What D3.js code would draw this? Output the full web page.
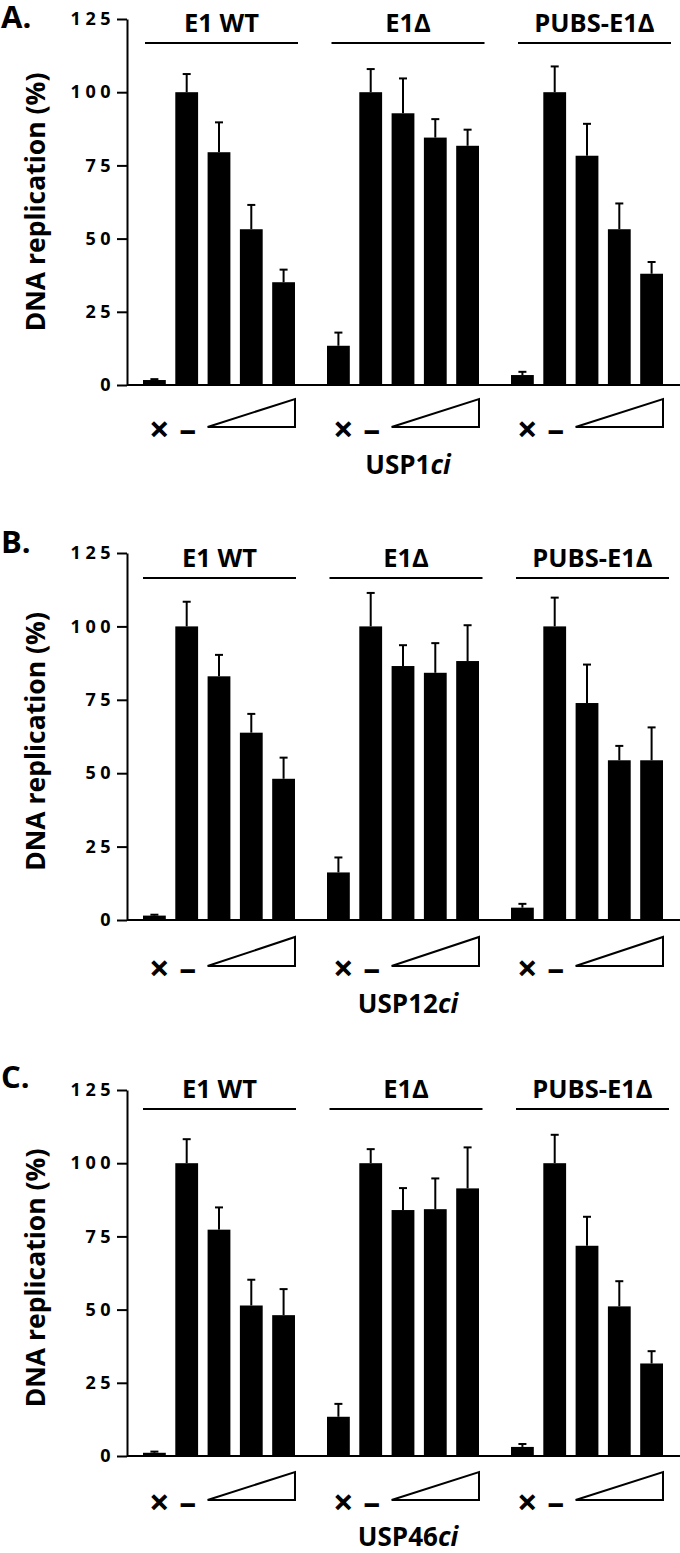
<!DOCTYPE html>
<html><head><meta charset="utf-8">
<script src="https://cdn.jsdelivr.net/npm/d3@7/dist/d3.min.js"></script>
<style>
html,body{margin:0;padding:0;background:#fff;}
svg{display:block;font-family:"Open Sans",sans-serif;}
</style></head>
<body>
<script>
// ---- data ----
const groups = ["E1 WT", "E1Δ", "PUBS-E1Δ"];
const conditions = ["none", "minus", "dose1", "dose2", "dose3"];
const tickValues = [0, 25, 50, 75, 100, 125];
const panelLetters = ["A.", "B.", "C."];
const inhibitors = ["USP1", "USP12", "USP46"];

const meansA = [[1.7, 100, 79.5, 53.2, 35.1], [13.4, 100, 92.8, 84.5, 81.7], [3.4, 100, 78.3, 53.2, 38.0]];
const errA   = [[0.3, 6.2, 10.2, 8.3, 4.3], [4.5, 7.9, 11.9, 6.3, 5.5], [1.1, 8.8, 10.9, 8.8, 4.0]];
const meansB = [[1.5, 100, 83.0, 63.8, 48.1], [16.2, 100, 86.5, 84.2, 88.2], [4.2, 100, 73.9, 54.4, 54.4]];
const errB   = [[0.3, 8.4, 7.3, 6.4, 7.2], [5.1, 11.4, 7.1, 10.1, 12.2], [1.3, 9.8, 13.1, 4.9, 11.2]];
const meansC = [[1.1, 100, 77.3, 51.4, 48.1], [13.4, 100, 84.0, 84.3, 91.4], [3.1, 100, 71.8, 51.1, 31.6]];
const errC   = [[0.4, 8.2, 7.6, 8.8, 8.9], [4.4, 4.8, 7.5, 10.5, 14.0], [1.0, 9.7, 9.9, 8.6, 4.2]];

const allMeans = [meansA, meansB, meansC];
const allErr = [errA, errB, errC];

// ---- layout (per panel) ----
const layout = [
  {top: 19,   bottom: 385,  lineY: 43,   labelY: 32,   letterY: 28,   triTop: 399,  triBot: 427,  xlabY: 474,  lineShift: 2},
  {top: 553,  bottom: 920,  lineY: 578,  labelY: 567,  letterY: 553,  triTop: 937,  triBot: 966,  xlabY: 1013, lineShift: 0},
  {top: 1090, bottom: 1456, lineY: 1109, labelY: 1098, letterY: 1088, triTop: 1472, triBot: 1500, xlabY: 1546, lineShift: 0}
];

const W = 680, H = 1553;
const axisX = 127;
const svg = d3.select("body").append("svg").attr("width", W).attr("height", H);

const xGroup = d3.scaleBand().domain(groups).range([143, 663]).paddingInner(0.174).paddingOuter(0);
const xBar = d3.scaleBand().domain(conditions).range([0, xGroup.bandwidth()]).paddingInner(0.294).paddingOuter(0);
const xLine = d3.scaleBand().domain(groups).range([143, 143 + 2 * 186.5 + 153]).paddingInner(33.5 / 186.5).paddingOuter(0);

layout.forEach((L, p) => {
  const g = svg.append("g");
  const y = d3.scaleLinear().domain([0, 125]).range([L.bottom, L.top]);

  // panel letter
  g.append("text").attr("x", 1).attr("y", L.letterY)
    .attr("font-size", 31).attr("font-weight", 700).text(panelLetters[p]);

  // y axis
  const ax = g.append("g").attr("transform", `translate(${axisX},0)`)
    .call(d3.axisLeft(y).tickValues(tickValues).tickSize(10).tickSizeOuter(0).tickPadding(2));
  ax.select(".domain").attr("stroke", "#000").attr("stroke-width", 2);
  ax.selectAll(".tick line").attr("stroke", "#000").attr("stroke-width", 2);
  ax.selectAll(".tick text").attr("font-size", 18).attr("font-weight", 700)
    .attr("font-family", "'Open Sans',sans-serif").attr("fill", "#000")
    .style("letter-spacing", "4.5px");

  // y label
  g.append("text")
    .attr("transform", `translate(45,${(L.top + L.bottom) / 2 + (p === 0 ? 0 : 5)}) rotate(-90)`)
    .attr("text-anchor", "middle").attr("font-size", 26.5).attr("font-weight", 700)
    .text("DNA replication (%)");

  // baseline
  g.append("line").attr("x1", axisX).attr("x2", 680).attr("y1", y(0)).attr("y2", y(0))
    .attr("stroke", "#000").attr("stroke-width", 2);

  groups.forEach((grp, gi) => {
    const gx = xGroup(grp);
    const means = allMeans[p][gi];
    const errs = allErr[p][gi];
    const data = conditions.map((c, i) => ({c, v: means[i], e: errs[i]}));

    // group header line + label
    const lx = xLine(grp) + L.lineShift;
    g.append("line").attr("x1", lx).attr("x2", lx + xLine.bandwidth())
      .attr("y1", L.lineY).attr("y2", L.lineY).attr("stroke", "#000").attr("stroke-width", 2);
    g.append("text").attr("x", lx + xLine.bandwidth() / 2).attr("y", L.labelY)
      .attr("text-anchor", "middle").attr("font-size", 25.5).attr("font-weight", 700).text(grp);

    // error bars
    const eg = g.append("g").attr("stroke", "#000").attr("stroke-width", 2);
    data.forEach(d => {
      const cx = gx + xBar(d.c) + xBar.bandwidth() / 2;
      eg.append("line").attr("x1", cx).attr("x2", cx).attr("y1", y(d.v)).attr("y2", y(d.v + d.e));
      eg.append("line").attr("x1", cx - 4).attr("x2", cx + 4).attr("y1", y(d.v + d.e)).attr("y2", y(d.v + d.e));
    });

    // bars
    g.selectAll(null).data(data).enter().append("rect")
      .attr("x", d => gx + xBar(d.c))
      .attr("width", xBar.bandwidth())
      .attr("y", d => y(d.v))
      .attr("height", d => y(0) - y(d.v))
      .attr("fill", "#000");

    // condition symbols
    const c0 = gx + xBar(conditions[0]) + xBar.bandwidth() / 2;
    const c1 = gx + xBar(conditions[1]) + xBar.bandwidth() / 2;
    g.append("text").attr("x", c0 + 5).attr("y", L.triBot + 1).attr("dominant-baseline", "central")
      .attr("text-anchor", "middle").attr("font-size", 36).attr("font-weight", 700).text("×");
    g.append("text").attr("x", c1 + 1).attr("y", L.triBot + 1).attr("dominant-baseline", "central")
      .attr("text-anchor", "middle").attr("font-size", 34).attr("font-weight", 700).text("–");

    // dose triangle
    const tx0 = gx + xBar(conditions[2]);
    const tx1 = gx + xBar(conditions[4]) + xBar.bandwidth();
    g.append("path")
      .attr("d", `M${tx0},${L.triBot}L${tx1},${L.triTop}L${tx1},${L.triBot}Z`)
      .attr("fill", "#fff").attr("stroke", "#000").attr("stroke-width", 2).attr("stroke-linejoin", "miter");
  });

  // x label
  const t = g.append("text").attr("x", 408).attr("y", L.xlabY).attr("text-anchor", "middle")
    .attr("font-size", 26).attr("font-weight", 700);
  t.append("tspan").text(inhibitors[p]);
  t.append("tspan").attr("font-style", "italic").text("ci");
});
</script>
</body></html>
